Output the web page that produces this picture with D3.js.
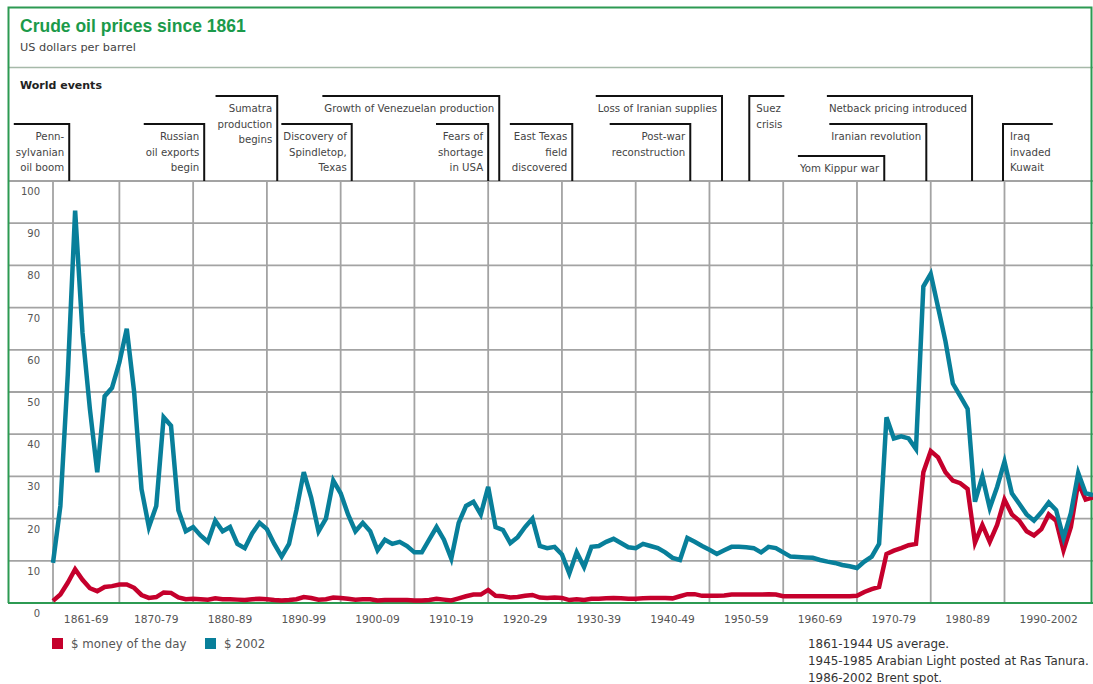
<!DOCTYPE html>
<head>
    <title>Crude oil prices since 1861</title>
    <meta charset="utf-8">
    <style>
        body { margin: 0; background: #fff; }
        svg { display: block; }
        .small { font-family: "DejaVu Sans", sans-serif; }
    </style>
</head>

<body>
    <div id="chart"></div>

    <script src="https://d3js.org/d3.v7.min.js"></script>
    <script>
        // yearly values, 1861 to 2002
        var years = d3.range(1861, 2003);

        var priceReal = [
            9.5, 23, 54, 93, 64, 46, 31, 49, 51,
            57, 65, 50, 27, 18, 23, 44, 42, 22, 17,
            18, 16, 14.5, 19.5, 17, 18, 14, 13, 16.5, 19,
            17.5, 14, 11, 14, 22, 31, 25, 17, 20, 29,
            26, 21, 17, 19, 17, 12.5, 15, 14, 14.5, 13.5,
            12, 12, 15, 18, 15, 10.5, 19, 23, 24, 21,
            27.5, 18, 17.3, 14.2, 15.6, 18, 20, 13.5, 13, 13.3,
            11.5, 7, 12, 8.5, 13.3, 13.5, 14.5, 15.2, 14.2, 13.2,
            13, 14, 13.5, 13, 12, 10.7, 10.2, 15.4, 14.5, 13.5,
            12.6, 11.6, 12.5, 13.3, 13.3, 13.2, 13, 12, 13.3, 13,
            12, 11, 10.9, 10.8, 10.7, 10.2, 9.8, 9.5, 9, 8.7,
            8.3, 9.8, 11, 14, 44, 39, 39.5, 39, 36.5, 75,
            78, 70, 62, 52, 49, 46, 24, 30, 22.5, 27.5,
            33.5, 26, 23.5, 21, 19.5, 21.5, 23.8, 22, 15.4, 21.3,
            30.8, 26, 25.6
        ];

        var priceDay = [
            0.5, 2, 4.8, 8, 5.5, 3.5, 2.8, 3.8, 4,
            4.4, 4.4, 3.6, 1.9, 1.2, 1.4, 2.5, 2.4, 1.3, 0.9,
            1, 0.9, 0.8, 1.1, 0.9, 0.9, 0.8, 0.7, 0.9, 1,
            0.9, 0.7, 0.6, 0.7, 0.9, 1.4, 1.2, 0.8, 0.9, 1.3,
            1.2, 1, 0.8, 0.9, 0.9, 0.6, 0.7, 0.7, 0.7, 0.7,
            0.6, 0.6, 0.7, 1, 0.8, 0.6, 1.1, 1.6, 2, 2,
            3.1, 1.7, 1.6, 1.3, 1.4, 1.7, 1.9, 1.3, 1.2, 1.3,
            1.2, 0.7, 0.9, 0.7, 1, 1, 1.1, 1.2, 1.1, 1,
            1, 1.1, 1.2, 1.2, 1.2, 1.1, 1.6, 2.1, 2.1, 1.7,
            1.7, 1.7, 1.8, 2, 2, 2, 2, 2, 2.1, 2,
            1.6, 1.6, 1.6, 1.6, 1.6, 1.6, 1.6, 1.6, 1.6, 1.6,
            1.7, 2.6, 3.3, 3.8, 11.6, 12.4, 13, 13.7, 14, 31,
            36, 34.5, 31, 29, 28.4, 27, 14.3, 18.5, 14.5, 18.5,
            24.5, 21, 19.5, 17, 16, 17.5, 21, 19.5, 12.5, 18,
            28.5, 24.5, 25
        ];

        var yTicks = [0, 10, 20, 30, 40, 50, 60, 70, 80, 90, 100];
        var decadeStarts = [1861, 1870, 1880, 1890, 1900, 1910, 1920, 1930, 1940, 1950, 1960, 1970, 1980, 1990, 2002];
        var decadeLabels = ["1861-69", "1870-79", "1880-89", "1890-99", "1900-09", "1910-19", "1920-29",
                            "1930-39", "1940-49", "1950-59", "1960-69", "1970-79", "1980-89", "1990-2002"];

        var eventYears = [1863.2, 1881.5, 1891.4, 1901.5, 1921.5, 1920, 1931.4, 1951.7, 1947.4, 1955.4, 1985.6, 1979.4, 1973.7, 1989.8];
        var eventLabels = [
            ["Penn-", "sylvanian", "oil boom"],
            ["Russian", "oil exports", "begin"],
            ["Sumatra", "production", "begins"],
            ["Discovery of", "Spindletop,", "Texas"],
            ["Growth of Venezuelan production"],
            ["Fears of", "shortage", "in USA"],
            ["East Texas", "field", "discovered"],
            ["Loss of Iranian supplies"],
            ["Post-war", "reconstruction"],
            ["Suez", "crisis"],
            ["Netback pricing introduced"],
            ["Iranian revolution"],
            ["Yom Kippur war"],
            ["Iraq", "invaded", "Kuwait"]
        ];
        var eventTier = [1, 1, 0, 1, 0, 1, 1, 0, 1, 0, 0, 1, 2, 1];
        var eventRight = [9, 13]; // labels that sit right of their line

        var seriesNames = ["$ money of the day", "$ 2002"];
        var notes = ["1861-1944 US average.",
                     "1945-1985 Arabian Light posted at Ras Tanura.",
                     "1986-2002 Brent spot."];

        var W = 1093, H = 684;
        var green = "#2c9a52", grid = "#a3a3a3";
        var red = "#c5002c", blue = "#087f9a";
        var tierY = [96, 124, 156];

        var x = d3.scaleLinear().domain([1861, 2002]).range([53, 1093]);
        var y = d3.scaleLinear().domain([0, 100]).range([603, 181]);

        var svg = d3.select("#chart").append("svg")
            .attr("width", W)
            .attr("height", H);

        svg.append("rect").attr("width", W).attr("height", H).attr("fill", "#fff");

        // header
        svg.append("text")
            .attr("x", 20).attr("y", 32)
            .style("font-family", "'Liberation Sans', Arial, sans-serif")
            .style("font-weight", "bold")
            .style("font-size", "17.5px")
            .attr("fill", "#1b9a4a")
            .text("Crude oil prices since 1861");

        svg.append("text")
            .attr("class", "small")
            .attr("x", 20).attr("y", 51)
            .style("font-size", "11.3px")
            .attr("fill", "#444")
            .text("US dollars per barrel");

        svg.append("line")
            .attr("x1", 8).attr("x2", W).attr("y1", 67.5).attr("y2", 67.5)
            .attr("stroke", "#a6b9a9").attr("stroke-width", 1.5);

        svg.append("text")
            .attr("class", "small")
            .attr("x", 20).attr("y", 89)
            .style("font-size", "11px")
            .style("font-weight", "bold")
            .attr("fill", "#222")
            .text("World events");

        // grid
        svg.append("g")
            .selectAll("line")
            .data(yTicks.filter(d => d > 0))
            .enter()
            .append("line")
            .attr("x1", 9).attr("x2", W)
            .attr("y1", d => y(d)).attr("y2", d => y(d))
            .attr("stroke", grid).attr("stroke-width", 1.8);

        svg.append("g")
            .selectAll("line")
            .data(decadeStarts.slice(0, -1))
            .enter()
            .append("line")
            .attr("x1", d => x(d)).attr("x2", d => x(d))
            .attr("y1", y(100)).attr("y2", y(0))
            .attr("stroke", grid).attr("stroke-width", 1.8);

        // frame
        svg.append("path")
            .attr("d", "M8.5," + y(0) + "V7.5H1091.5V" + y(0))
            .attr("fill", "none").attr("stroke", green).attr("stroke-width", 2);

        svg.append("line")
            .attr("x1", 8).attr("x2", W).attr("y1", y(0)).attr("y2", y(0))
            .attr("stroke", green).attr("stroke-width", 2);

        // y labels
        svg.append("g")
            .selectAll("text")
            .data(yTicks)
            .enter()
            .append("text")
            .attr("class", "small")
            .attr("x", 40)
            .attr("y", d => y(d) + 14)
            .attr("text-anchor", "end")
            .style("font-size", "10px")
            .attr("fill", "#555")
            .text(d => d);

        // x labels
        svg.append("g")
            .selectAll("text")
            .data(decadeLabels)
            .enter()
            .append("text")
            .attr("class", "small")
            .attr("x", (d, i) => (x(decadeStarts[i]) + x(decadeStarts[i + 1])) / 2)
            .attr("y", 623)
            .attr("text-anchor", "middle")
            .style("font-size", "10.7px")
            .attr("fill", "#555")
            .text(d => d);

        // world events
        var ev = svg.append("g");
        eventLabels.forEach(function(lines, i) {
            var ex = x(eventYears[i]);
            var top = tierY[eventTier[i]];
            var right = eventRight.indexOf(i) >= 0;
            var g = ev.append("g");

            var t = g.selectAll("text")
                .data(lines)
                .enter()
                .append("text")
                .attr("class", "small")
                .attr("x", right ? ex + 7 : ex - 5)
                .attr("y", (d, k) => top + 16 + k * 15.5)
                .attr("text-anchor", right ? "start" : "end")
                .style("font-size", "10.2px")
                .attr("fill", "#444")
                .text(d => d);

            var widest = d3.max(t.nodes(), n => n.getComputedTextLength());
            var x2 = right ? ex + 7 + widest + 2 : ex - 5 - widest - 2;

            g.append("path")
                .attr("d", "M" + x2 + "," + top + "H" + ex + "V" + y(100))
                .attr("fill", "none")
                .attr("stroke", "#111")
                .attr("stroke-width", 2);
        });

        // series
        var line = d3.line()
            .x((d, i) => x(years[i]))
            .y(d => y(d));

        svg.append("path")
            .datum(priceDay)
            .attr("d", line)
            .attr("fill", "none")
            .attr("stroke", red)
            .attr("stroke-width", 4.5);

        svg.append("path")
            .datum(priceReal)
            .attr("d", line)
            .attr("fill", "none")
            .attr("stroke", blue)
            .attr("stroke-width", 4.5);

        // legend
        var legend = svg.append("g")
            .selectAll("g")
            .data(seriesNames)
            .enter()
            .append("g")
            .attr("transform", (d, i) => "translate(" + (i ? 205 : 52) + ",638)");

        legend.append("rect")
            .attr("width", 11).attr("height", 11)
            .attr("fill", (d, i) => i ? blue : red);

        legend.append("text")
            .attr("class", "small")
            .attr("x", 19).attr("y", 10)
            .style("font-size", "11.8px")
            .attr("fill", "#555")
            .text(d => d);

        svg.append("g")
            .selectAll("text")
            .data(notes)
            .enter()
            .append("text")
            .attr("class", "small")
            .attr("x", 808)
            .attr("y", (d, i) => 648 + i * 17)
            .style("font-size", "11.9px")
            .attr("fill", "#333")
            .text(d => d);
    </script>
</body>
</html>
